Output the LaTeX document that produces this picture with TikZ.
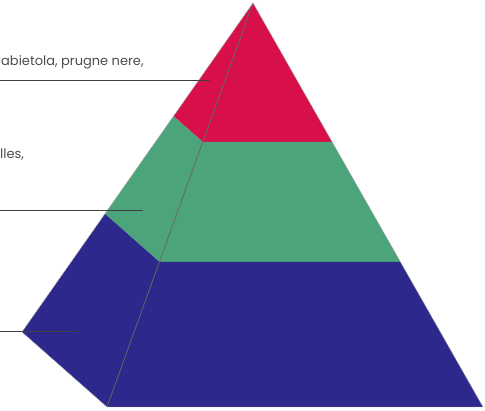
\documentclass[tikz,border=0pt]{standalone}
\usepackage{fontspec}
\newfontfamily\labelfont{Poppins}
\usetikzlibrary{calc}

\definecolor{pyrred}{RGB}{216,16,74}
\definecolor{pyrgreen}{RGB}{76,164,122}
\definecolor{pyrblue}{RGB}{44,40,140}

\begin{document}
\begin{tikzpicture}[
  x=1pt, y=-1pt,
  band/.style={line join=round},
  edge/.style={draw=black!60, line width=0.8pt},
  leader/.style={draw=black!75, line width=1pt},
  lbl/.style={anchor=base west, inner sep=0pt, text=black!70, font=\labelfont\fontsize{13}{15}\selectfont},
]
\useasboundingbox (0,0) rectangle (485,411);

\coordinate (apex) at (253,3);
\coordinate (back) at (22,332);
\coordinate (front) at (107,407);
\coordinate (right) at (483,407);
\coordinate (b1) at ($(apex)!0.344!(back)$);
\coordinate (f1) at ($(apex)!0.344!(front)$);
\coordinate (r1) at ($(apex)!0.344!(right)$);
\coordinate (b2) at ($(apex)!0.641!(back)$);
\coordinate (f2) at ($(apex)!0.641!(front)$);
\coordinate (r2) at ($(apex)!0.641!(right)$);

% the three layers
\fill[band, pyrred] (apex) -- (b1) -- (f1) -- (r1) -- cycle;
\fill[band, pyrgreen] (b1) -- (b2) -- (f2) -- (r2) -- (r1) -- (f1) -- cycle;
\fill[band, pyrblue] (b2) -- (back) -- (front) -- (right) -- (r2) -- (f2) -- cycle;
\draw[edge] (apex) -- (front);
\draw[draw=black!35, line width=0.4pt] (apex) -- (back) -- (front) -- (right) -- cycle;

% labels
\node[lbl] (top) at (1,66) {abietola, prugne nere,};
\node[lbl] (mid) at (0,159) {lles,};
\coordinate (t0) at (0,81);
\coordinate (t1) at (210,81);
\coordinate (m0) at (0,211);
\coordinate (m1) at (143,211);
\coordinate (l0) at (0,332);
\coordinate (l1) at (78,332);
\draw[leader] (t0) -- (t1);
\draw[leader] (m0) -- (m1);
\draw[leader] (l0) -- (l1);
\end{tikzpicture}
\end{document}
